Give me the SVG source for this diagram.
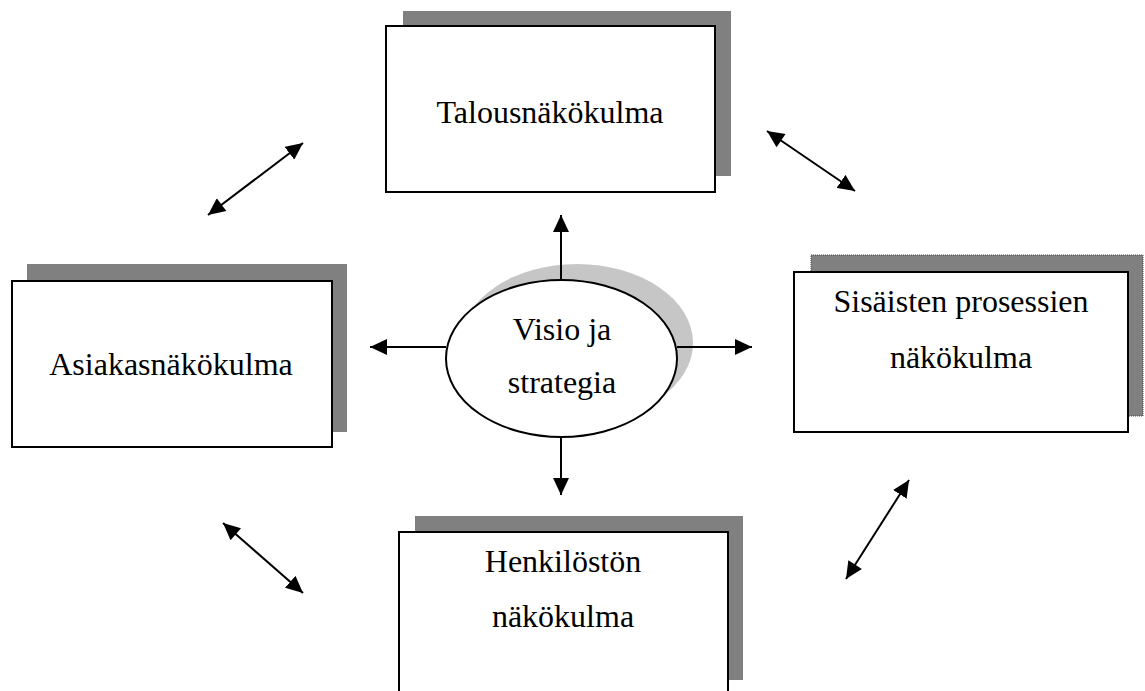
<svg xmlns="http://www.w3.org/2000/svg" width="1145" height="691" viewBox="0 0 1145 691">
<style>
.shadow{fill:#808080;}
.box{fill:#fff;stroke:#000;stroke-width:2;}
.lbl{font-family:"Liberation Serif","Times New Roman",serif;font-size:32px;fill:#000;text-anchor:middle;}
.conn{stroke:#000;stroke-width:2;fill:none;marker-end:url(#ah);}
.conn2{stroke:#000;stroke-width:2;fill:none;marker-start:url(#ahs);marker-end:url(#ah);}
</style>
<defs>
<marker id="ah" markerUnits="userSpaceOnUse" markerWidth="18" markerHeight="16" refX="17" refY="8" orient="auto"><path d="M0,0 L17,8 L0,16 Z" fill="#000"/></marker>
<marker id="ahs" markerUnits="userSpaceOnUse" markerWidth="18" markerHeight="16" refX="0" refY="8" orient="auto"><path d="M17,0 L0,8 L17,16 Z" fill="#000"/></marker>
</defs>
<rect width="1145" height="691" fill="#fff"/>
<g id="talous">
<rect class="shadow" x="403" y="11" width="328" height="165"/>
<rect class="box" x="386" y="26" width="329" height="166"/>
<text class="lbl" x="550" y="123">Talousnäkökulma</text>
</g>
<g id="asiakas">
<rect class="shadow" x="27" y="264" width="320" height="168"/>
<rect class="box" x="12" y="281" width="320" height="166"/>
<text class="lbl" x="171" y="375">Asiakasnäkökulma</text>
</g>
<g id="sisaiset">
<rect class="shadow" x="811" y="255" width="332" height="161" stroke="#444" stroke-width="1" stroke-dasharray="1 1"/>
<rect class="box" x="794" y="272" width="334" height="160"/>
<text class="lbl" x="961" y="312">Sisäisten prosessien</text>
<text class="lbl" x="961" y="368">näkökulma</text>
</g>
<g id="henkilosto">
<rect class="shadow" x="415" y="516" width="328" height="164"/>
<rect class="box" x="399" y="532" width="329" height="170"/>
<text class="lbl" x="563" y="572">Henkilöstön</text>
<text class="lbl" x="563" y="627">näkökulma</text>
</g>
<g id="visio">
<ellipse cx="577" cy="343" rx="116" ry="79" fill="#c6c6c6"/>
<ellipse cx="561.5" cy="358.5" rx="115.5" ry="78.5" fill="#fff" stroke="#000" stroke-width="2"/>
<text class="lbl" x="562" y="340">Visio ja</text>
<text class="lbl" x="562" y="393">strategia</text>
</g>
<g id="connectors">
<line class="conn" x1="561" y1="280" x2="561" y2="215"/>
<line class="conn" x1="561" y1="437" x2="561" y2="495"/>
<line class="conn" x1="446" y1="347" x2="370" y2="347"/>
<line class="conn" x1="677" y1="347" x2="752" y2="347"/>
<line class="conn2" x1="208" y1="215" x2="303" y2="143"/>
<line class="conn2" x1="767" y1="131" x2="855" y2="191"/>
<line class="conn2" x1="223" y1="523" x2="303" y2="593"/>
<line class="conn2" x1="846" y1="579" x2="909" y2="480"/>
</g>
</svg>
